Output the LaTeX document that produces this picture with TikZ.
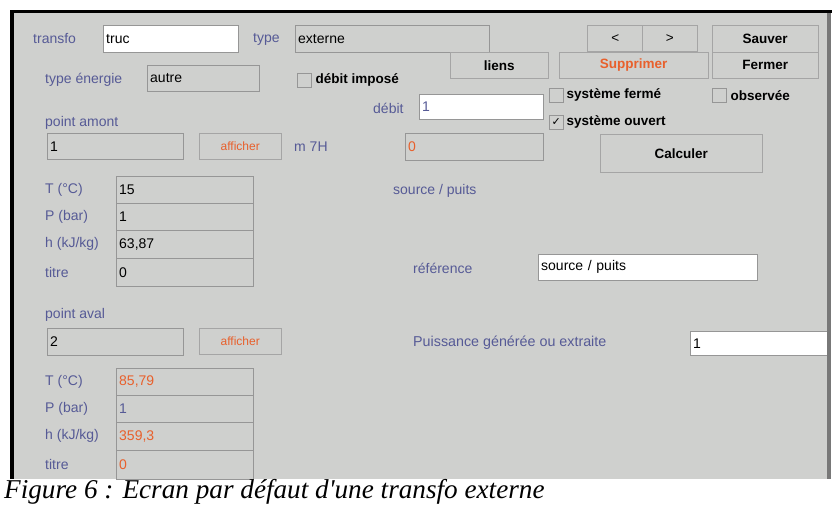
\documentclass[tikz,border=0pt]{standalone}
\usepackage{fontspec}
\setmainfont{Liberation Sans}
\newfontfamily\capfont{Liberation Serif}
\newfontfamily\symfont{DejaVu Sans}
\usetikzlibrary{positioning}

\definecolor{panelgray}{RGB}{207,208,206}
\definecolor{labelblue}{RGB}{86,90,150}
\definecolor{redorange}{RGB}{232,96,44}
\definecolor{fieldedge}{RGB}{150,150,150}
\definecolor{btnedge}{RGB}{165,165,165}
\definecolor{sideedge}{RGB}{120,120,120}

\begin{document}
\begin{tikzpicture}[x=1pt,y=-1pt,
    gui label/.style={anchor=west,inner sep=0pt,text=labelblue,font=\fontsize{14}{16}\selectfont},
    bold text/.style={anchor=west,inner sep=0pt,font=\fontsize{13.5}{16}\selectfont\bfseries},
    gray field/.style={draw=fieldedge,fill=panelgray,anchor=north west,inner xsep=3pt,inner ysep=0pt,
        align=left,font=\fontsize{14}{16}\selectfont},
    white field/.style={gray field,fill=white},
    gui button/.style={draw=btnedge,fill=panelgray,anchor=north west,inner sep=0pt,
        font=\fontsize{13.5}{16}\selectfont\bfseries},
    check box/.style={draw=fieldedge,fill=panelgray,anchor=north west,minimum size=14pt,inner sep=0pt}]

    \useasboundingbox[fill=white] (0,0) rectangle (832,508);
    \fill[panelgray] (14,13) rectangle (828,479);

    % top row
    \node[gui label] (lTransfo) at (33,39) {transfo};
    \node[white field,text width=129pt,minimum height=27pt] (fTransfo) at (103,25) {truc};
    \node[gui label] (lType) at (253,39) {type};
    \node[gray field,text width=188pt,minimum height=27pt] (fType) at (295,25) {externe};
    \node[gui button,minimum width=56pt,minimum height=26pt,font=\fontsize{13.5}{16}\selectfont] (bPrev) at (587,25) {<};
    \node[gui button,minimum width=55pt,minimum height=26pt,font=\fontsize{13.5}{16}\selectfont] (bNext) at (642,25) {>};
    \node[gui button,minimum width=106pt,minimum height=27pt] (bSauver) at (712,25) {Sauver};
    \node[gui button,minimum width=98pt,minimum height=26pt] (bLiens) at (450,52) {liens};
    \node[gui button,minimum width=149pt,minimum height=26pt,text=redorange] (bSuppr) at (559,52) {Supprimer};
    \node[gui button,minimum width=106pt,minimum height=26pt] (bFermer) at (712,52) {Fermer};

    % energie / debit
    \node[gui label] (lEnergie) at (45,80) {type énergie};
    \node[gray field,text width=106pt,minimum height=26pt] (fEnergie) at (147,65) {autre};
    \node[check box] (cImpose) at (297,73) {};
    \node[bold text,right=4pt of cImpose] (tImpose) {débit imposé};
    \node[gui label] (lDebit) at (373,108) {débit};
    \node[white field,text width=118pt,minimum height=25pt,text=labelblue] (fDebit) at (419,94) {1};
    \node[check box] (cFerme) at (549,88) {};
    \node[bold text,right=3pt of cFerme] (tFerme) {système fermé};
    \node[check box] (cObs) at (712,88) {};
    \node[bold text,right=4pt of cObs] (tObs) {observée};
    \node[check box,font=\symfont\fontsize{11}{11}\selectfont] (cOuvert) at (549,115) {✓};
    \node[bold text,right=3pt of cOuvert] (tOuvert) {système ouvert};

    % point amont
    \node[gui label] (lAmont) at (45,123) {point amont};
    \node[gray field,text width=130pt,minimum height=26pt] (fAmont) at (47,133) {1};
    \node[gui button,minimum width=82pt,minimum height=26pt,text=redorange,font=\fontsize{12}{14}\selectfont] (bAffAmont) at (199,133) {afficher};
    \node[gui label] (lMdh) at (294,147) {m 7H};
    \node[gray field,text width=132pt,minimum height=27pt,text=redorange] (fMdh) at (405,133) {0};
    \node[gui button,minimum width=162pt,minimum height=38pt] (bCalc) at (600,134) {Calculer};

    % etat amont
    \node[gray field,text width=131pt,minimum height=27pt] (fT1) at (116,176) {15};
    \node[gray field,text width=131pt,minimum height=27pt] (fP1) at (116,203) {1};
    \node[gray field,text width=131pt,minimum height=28pt] (fH1) at (116,230) {63,87};
    \node[gray field,text width=131pt,minimum height=28pt] (fX1) at (116,258) {0};
    \node[gui label] (lT1) at (45,0 |- fT1) {T (°C)};
    \node[gui label] (lP1) at (45,0 |- fP1) {P (bar)};
    \node[gui label] (lH1) at (45,0 |- fH1) {h (kJ/kg)};
    \node[gui label] (lX1) at (45,0 |- fX1) {titre};

    % point aval
    \node[gui label] (lAval) at (45,315) {point aval};
    \node[gray field,text width=130pt,minimum height=27pt] (fAval) at (47,328) {2};
    \node[gui button,minimum width=82pt,minimum height=26pt,text=redorange,font=\fontsize{12}{14}\selectfont] (bAffAval) at (199,328) {afficher};

    % etat aval
    \node[gray field,text width=131pt,minimum height=27pt,text=redorange] (fT2) at (116,368) {85,79};
    \node[gray field,text width=131pt,minimum height=27pt,text=labelblue] (fP2) at (116,395) {1};
    \node[gray field,text width=131pt,minimum height=28pt,text=redorange] (fH2) at (116,422) {359,3};
    \node[gray field,text width=131pt,minimum height=29pt,text=redorange] (fX2) at (116,450) {0};
    \node[gui label] (lT2) at (45,0 |- fT2) {T (°C)};
    \node[gui label] (lP2) at (45,0 |- fP2) {P (bar)};
    \node[gui label] (lH2) at (45,0 |- fH2) {h (kJ/kg)};
    \node[gui label] (lX2) at (45,0 |- fX2) {titre};

    % source / puits
    \node[gui label] (lSource) at (393,191) {source / puits};
    \node[gui label] (lRef) at (413,268) {référence};
    \node[white field,text width=213pt,minimum height=26pt] (fRef) at (538,254) {source / puits};
    \node[gui label,font=\fontsize{14.3}{16}\selectfont] (lPuiss) at (413,343) {Puissance générée ou extraite};
    \node[white field,text width=134pt,minimum height=24pt] (fPuiss) at (690,331) {1};

    % frame
    \fill[white] (0,479.5) rectangle (832,508);
    \fill[sideedge] (827,13) rectangle (831,479);
    \fill[black] (10,10) rectangle (832,13);
    \fill[black] (10,10) rectangle (14,479);

    \node[anchor=base west,inner sep=0pt,font=\capfont\itshape\fontsize{27.2}{30}\selectfont] (caption) at (4,498)
        {Figure 6 : Ecran par défaut d'une transfo externe};
\end{tikzpicture}
\end{document}
